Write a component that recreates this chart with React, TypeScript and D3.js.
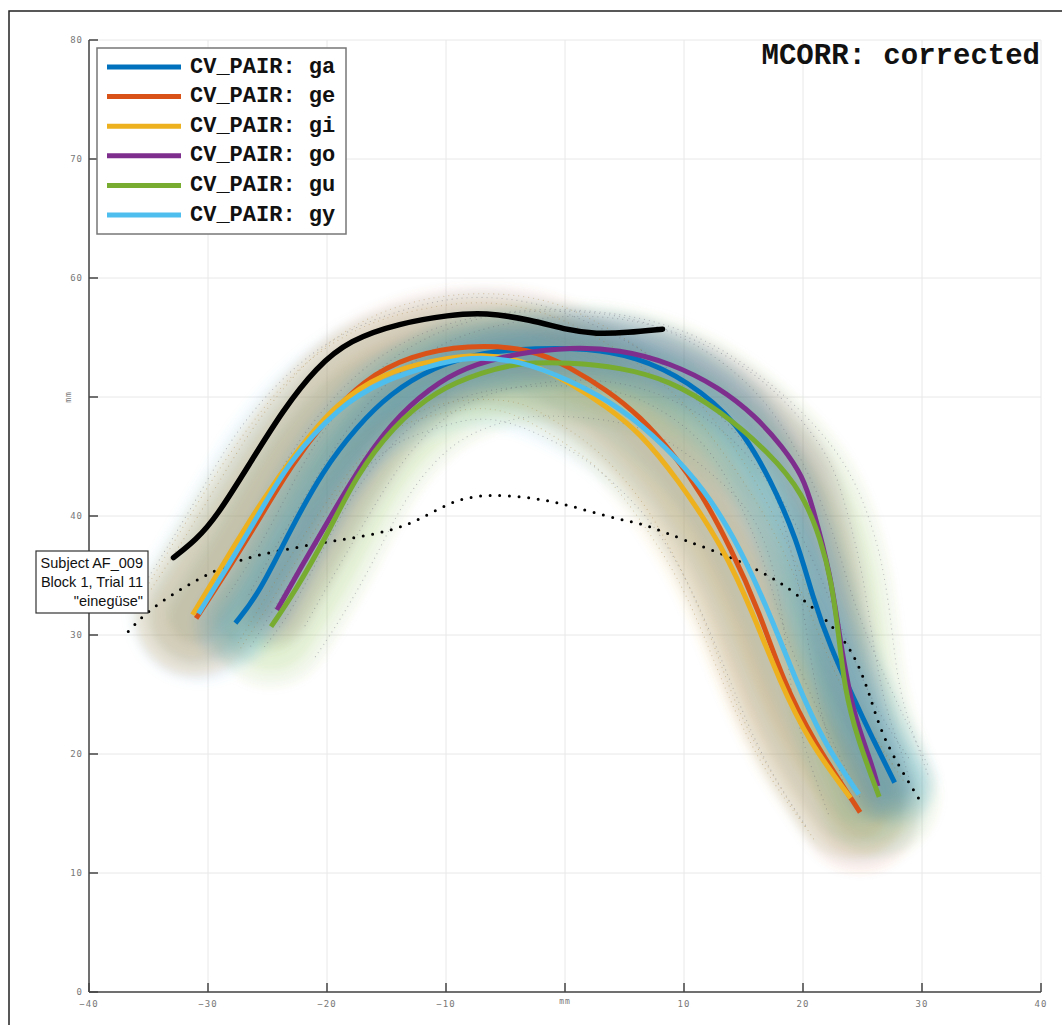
import React from 'react'
import * as d3 from 'd3'

// tick values (mm)
const xTicks = [-40, -30, -20, -10, 0, 10, 20, 30, 40]
const yTicks = [0, 10, 20, 30, 40, 50, 60, 70, 80]

const pairNames = ['ga', 'ge', 'gi', 'go', 'gu', 'gy']

// mean tongue contours per CV pair (x, y in mm)
const gaX = [-27.7, -25.7, -23.1, -20.3, -17.5, -14.7, -11.1, -6.9, -2.4, 1.8, 6.0, 10.3, 14.6, 17.3, 19.5, 20.8, 22.3, 24.2, 25.9, 27.7]
const gaY = [31.0, 33.5, 38.8, 43.9, 47.5, 50.3, 52.5, 53.8, 54.1, 54.1, 53.4, 51.4, 47.8, 43.0, 38.0, 33.2, 29.0, 24.8, 21.2, 17.6]

const geX = [-31.0, -28.5, -25.6, -22.9, -20.1, -17.0, -13.0, -8.2, -2.9, 0.4, 3.5, 6.3, 9.3, 11.4, 13.9, 16.4, 18.3, 20.8, 24.8]
const geY = [31.4, 35.2, 39.9, 44.4, 48.1, 51.4, 53.5, 54.4, 54.1, 52.5, 50.6, 48.4, 45.0, 42.0, 37.4, 31.8, 26.2, 21.2, 15.1]

const giX = [-31.3, -28.7, -25.6, -22.5, -19.2, -15.3, -11.1, -6.8, -2.9, 0.4, 3.5, 6.3, 9.4, 13.3, 15.8, 18.0, 20.5, 24.0]
const giY = [31.7, 36.0, 41.1, 45.5, 49.5, 52.0, 53.1, 53.7, 52.9, 51.2, 49.2, 47.0, 43.2, 37.4, 31.8, 26.2, 21.0, 16.3]

const goX = [-24.2, -22.3, -19.5, -16.7, -13.9, -10.5, -7.5, -3.8, 0.4, 4.6, 8.8, 13.0, 16.0, 18.3, 20.0, 20.8, 22.3, 23.1, 24.2, 25.6, 26.3]
const goY = [32.1, 35.5, 40.3, 45.0, 48.6, 51.4, 52.8, 53.7, 54.2, 54.0, 52.9, 50.8, 48.4, 45.8, 43.3, 40.8, 35.2, 29.6, 23.4, 19.7, 17.3]

const guX = [-24.7, -22.6, -20.1, -17.6, -14.5, -10.8, -6.9, -3.8, 0.4, 4.6, 8.8, 13.0, 17.2, 20.0, 21.5, 22.4, 23.0, 23.5, 24.5, 26.4]
const guY = [30.7, 33.8, 38.2, 43.3, 47.5, 50.6, 52.1, 52.9, 52.9, 52.5, 51.4, 48.9, 45.3, 41.9, 38.0, 34.5, 30.0, 25.5, 21.5, 16.4]

const gyX = [-30.8, -28.5, -25.8, -23.2, -19.0, -15.3, -11.1, -8.0, -3.8, 0.4, 4.6, 8.5, 11.7, 14.7, 17.4, 19.4, 21.6, 24.7]
const gyY = [31.8, 35.5, 40.0, 44.6, 49.2, 51.4, 52.7, 53.4, 53.1, 51.4, 49.2, 45.8, 42.3, 37.4, 31.3, 26.2, 21.2, 16.6]

// spread of the trial contours around each mean (mm, full width)
const pairSpread = [7, 10, 10, 6, 10, 11.5]

// palate trace (solid) and reference trace (dotted)
const palateX = [-32.9, -31.0, -29.3, -26.5, -23.7, -20.9, -18.1, -13.9, -9.7, -6.7, -2.9, 0.3, 2.6, 5.2, 8.2]
const palateY = [36.5, 38.0, 39.9, 44.4, 48.9, 52.5, 54.8, 56.2, 56.9, 57.1, 56.5, 55.6, 55.3, 55.4, 55.7]

const refX = [-36.7, -35.0, -32.1, -29.3, -26.5, -23.8, -20.9, -18.1, -15.3, -12.5, -9.7, -6.7, -2.4, 0.0, 4.5, 6.8, 9.9, 13.9, 17.5, 19.4, 22.0, 24.2, 25.6, 26.7, 29.7]
const refY = [30.3, 32.1, 34.0, 35.5, 36.6, 37.1, 37.7, 38.1, 38.6, 39.5, 41.2, 41.9, 41.5, 41.0, 39.7, 39.3, 38.0, 36.6, 34.8, 33.5, 31.3, 28.7, 25.1, 21.2, 16.3]

const seriesX = [gaX, geX, giX, goX, guX, gyX]
const seriesY = [gaY, geY, giY, goY, guY, gyY]

const colors = ['#0072BD', '#D95319', '#EDB120', '#7E2F8E', '#77AC30', '#4DBEEE']
// order in which the spread bands are stacked
const bandOrder = [1, 2, 3, 4, 0, 5]

const W = 1062
const H = 1025

type Pt = [number, number]

// shift a polyline sideways by d (mm) along its normals
function offsetPts(pts: Pt[], d: number): Pt[] {
  return pts.map((p, i) => {
    const a = pts[Math.max(0, i - 1)]
    const b = pts[Math.min(pts.length - 1, i + 1)]
    const dx = b[0] - a[0]
    const dy = b[1] - a[1]
    const len = Math.hypot(dx, dy) || 1
    return [p[0] - (dy / len) * d, p[1] + (dx / len) * d] as Pt
  })
}

export default function App() {
  const x = d3.scaleLinear().domain([-40, 40]).range([89, 1041])
  const y = d3.scaleLinear().domain([0, 80]).range([992, 40])
  const pxPerMm = x(1) - x(0)

  const line = d3
    .line<Pt>()
    .x((d) => x(d[0]))
    .y((d) => y(d[1]))
    .curve(d3.curveBasis)

  const toPts = (xs: number[], ys: number[]) => xs.map((v, i) => [v, ys[i]] as Pt)

  const mono = '"Liberation Mono", "DejaVu Sans Mono", monospace'
  const tickFont = '"DejaVu Sans Mono", monospace'

  return (
    <svg width={W} height={H} style={{ position: 'absolute', left: 0, top: 0, background: '#fff' }}>
      <defs>
        <filter id="soft" x="-20%" y="-20%" width="140%" height="140%">
          <feGaussianBlur stdDeviation="5" />
        </filter>
      </defs>

      {/* figure frame */}
      <rect x={9} y={11} width={W + 20} height={H + 20} fill="none" stroke="#222" strokeWidth={1.5} />

      {/* grid */}
      <g stroke="#e8e8e8" strokeWidth={1}>
        {xTicks.map((t) => (
          <line key={'gx' + t} x1={x(t)} x2={x(t)} y1={y(0)} y2={y(80)} />
        ))}
        {yTicks.map((t) => (
          <line key={'gy' + t} x1={x(-40)} x2={x(40)} y1={y(t)} y2={y(t)} />
        ))}
      </g>

      {/* spread bands */}
      <g filter="url(#soft)">
        {bandOrder.map((i) => {
          const d = line(toPts(seriesX[i], seriesY[i])) || ''
          return (
            <g key={'band' + i}>
              {[1, 0.75, 0.45].map((k) => (
                <path
                  key={k}
                  d={d}
                  fill="none"
                  stroke={colors[i]}
                  strokeOpacity={0.1}
                  strokeWidth={pairSpread[i] * pxPerMm * k}
                  strokeLinecap="round"
                  strokeLinejoin="round"
                />
              ))}
            </g>
          )
        })}
      </g>

      {/* dotted edges of the trial spread */}
      <g fill="none" strokeWidth={1.2} strokeLinecap="round" strokeDasharray="0 5" opacity={0.35}>
        {seriesX.map((xs, i) => {
          const pts = toPts(xs, seriesY[i])
          return [0.45, -0.45].map((k) => (
            <path
              key={'edge' + i + '_' + k}
              d={line(offsetPts(pts, pairSpread[i] * k)) || ''}
              stroke={i === 1 || i === 2 ? '#a07830' : '#556'}
            />
          ))
        })}
      </g>

      {/* axes */}
      <g stroke="#444" strokeWidth={1.5}>
        <line x1={x(-40)} x2={x(-40)} y1={y(0)} y2={y(80)} />
        <line x1={x(-40)} x2={x(40)} y1={y(0)} y2={y(0)} />
        {yTicks.map((t) => (
          <line key={'ty' + t} x1={x(-40)} x2={x(-40) + 9} y1={y(t)} y2={y(t)} />
        ))}
        {xTicks.map((t) => (
          <line key={'tx' + t} x1={x(t)} x2={x(t)} y1={y(0)} y2={y(0) - 9} />
        ))}
      </g>
      <g fontFamily={tickFont} fontSize={9} fill="#777" letterSpacing={1}>
        {yTicks
          .filter((t) => t !== 50)
          .map((t) => (
            <text key={'ly' + t} x={x(-40) - 6} y={y(t)} textAnchor="end" dominantBaseline="central">
              {t}
            </text>
          ))}
        {xTicks
          .filter((t) => t !== 0)
          .map((t) => (
            <text key={'lx' + t} x={x(t)} y={y(0) + 12} textAnchor="middle" dominantBaseline="central">
              {t < 0 ? '\u2212' + Math.abs(t) : t}
            </text>
          ))}
        <text x={x(0)} y={y(0) + 9} textAnchor="middle" dominantBaseline="central" fontSize={8}>
          mm
        </text>
        <text
          transform={`translate(${x(-40) - 21},${y(50)}) rotate(-90)`}
          textAnchor="middle"
          dominantBaseline="central"
          fontSize={8}
        >
          mm
        </text>
      </g>

      {/* reference dotted trace */}
      <path
        d={line(toPts(refX, refY)) || ''}
        fill="none"
        stroke="#000"
        strokeWidth={3}
        strokeDasharray="0 9.6"
        strokeLinecap="round"
      />

      {/* palate */}
      <path
        d={line(toPts(palateX, palateY)) || ''}
        fill="none"
        stroke="#000"
        strokeWidth={5.5}
        strokeLinecap="round"
        strokeLinejoin="round"
      />

      {/* mean contours */}
      {seriesX.map((xs, i) => (
        <path
          key={'mean' + i}
          d={line(toPts(xs, seriesY[i])) || ''}
          fill="none"
          stroke={colors[i]}
          strokeWidth={5}
          strokeLinejoin="round"
        />
      ))}

      {/* legend */}
      <rect x={97} y={48} width={249} height={186} fill="#fff" stroke="#777" strokeWidth={1.5} />
      {pairNames.map((p, i) => (
        <g key={'leg' + p} transform={`translate(0,${67 + i * 29.6})`}>
          <line x1={107} x2={181} y1={0} y2={0} stroke={colors[i]} strokeWidth={5} />
          <text x={190} y={0} dominantBaseline="central" fontFamily={mono} fontWeight="bold" fontSize={22} fill="#111">
            {'CV_PAIR: ' + p}
          </text>
        </g>
      ))}

      {/* title */}
      <text x={1040} y={64} textAnchor="end" fontFamily={mono} fontWeight="bold" fontSize={29} fill="#111">
        MCORR: corrected
      </text>

      {/* subject annotation */}
      <rect x={36} y={551} width={112} height={62} fill="#fff" stroke="#333" strokeWidth={1.2} />
      <g fontFamily='"Liberation Sans", Arial, sans-serif' fontSize={14.5} fill="#111" textAnchor="end">
        <text x={143} y={568}>Subject AF_009</text>
        <text x={143} y={587}>Block 1, Trial 11</text>
        <text x={143} y={606}>"einegüse"</text>
      </g>
    </svg>
  )
}
